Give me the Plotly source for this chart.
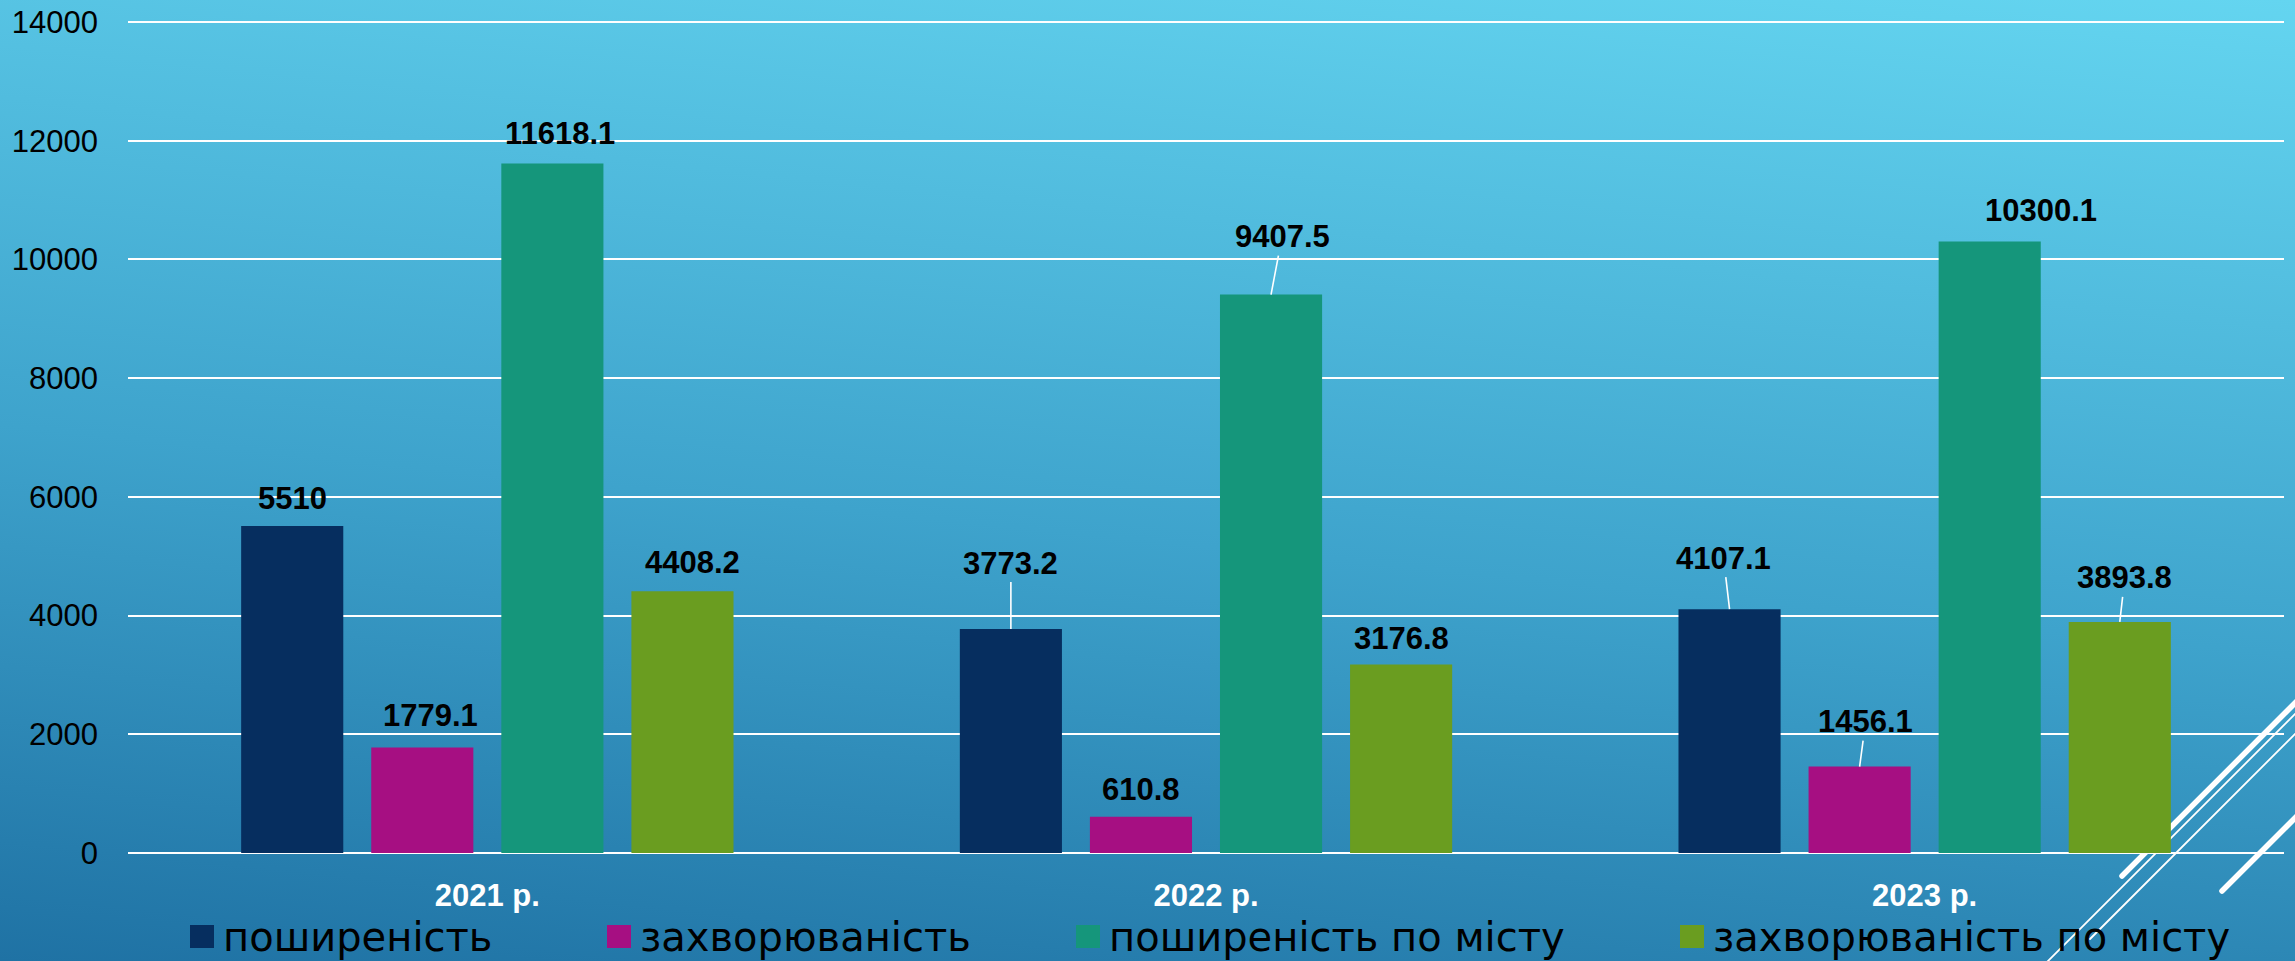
import base64
import plotly.graph_objects as go

# ---- data ----
categories = ["2021 р.", "2022 р.", "2023 р."]
series_names = ["поширеність", "захворюваність", "поширеність по місту", "захворюваність по місту"]
prevalence = [5510, 3773.2, 4107.1]
incidence = [1779.1, 610.8, 1456.1]
city_prevalence = [11618.1, 9407.5, 10300.1]
city_incidence = [4408.2, 3176.8, 3893.8]
y_ticks = [0, 2000, 4000, 6000, 8000, 10000, 12000, 14000]

series_values = [prevalence, incidence, city_prevalence, city_incidence]
series_colors = ["#062e5f", "#a60f82", "#15967b", "#6a9d20"]

# label placement (pixel offsets of the label centre from the bar top, leader line on/off)
label_offsets = [
    [(0, -27, False), (0, -66, True), (-6, -51, True)],
    [(8, -32, False), (0, -27, False), (6, -45, True)],
    [(8, -30, False), (11, -58, True), (51, -31, False)],
    [(10, -29, False), (0, -26, False), (5, -44, True)],
]

# ---- geometry ----
W, H = 2295, 961
ML, MR, MT, MB = 128, 11, 18, 106
PW, PH = W - ML - MR, H - MT - MB
ZERO_PX, TOP_TICK_PX = 853, 22          # pixel rows of the 0 and 14000 grid lines
PX_PER_UNIT = (ZERO_PX - TOP_TICK_PX) / y_ticks[-1]
Y_RANGE = [-(H - MB - ZERO_PX) / PX_PER_UNIT, (ZERO_PX - MT) / PX_PER_UNIT]
BARGAP, GROUPGAP = 0.276, 0.215
SLOT = (1 - BARGAP) / len(series_values)


def px_x(px):
    return (px - ML) / PW


def px_y(py):
    return (H - MB - py) / PH


# ---- background: diagonal gradient with decorative strokes ----
svg = f"""<svg xmlns="http://www.w3.org/2000/svg" width="{W}" height="{H}" viewBox="0 0 {W} {H}" preserveAspectRatio="none">
<defs><linearGradient id="g" gradientUnits="userSpaceOnUse" x1="0" y1="961" x2="118.6" y2="-218.8">
<stop offset="0" stop-color="#1f72a4"/><stop offset="0.45" stop-color="#3ea3cc"/><stop offset="1" stop-color="#64d5f0"/>
</linearGradient></defs>
<rect x="0" y="0" width="{W}" height="{H}" fill="url(#g)"/>
<g stroke="#ffffff" stroke-linecap="round" fill="none">
<line x1="2122" y1="876" x2="2330" y2="668" stroke-width="5.5"/>
<line x1="2222" y1="891" x2="2330" y2="783" stroke-width="5.5"/>
<line x1="2030" y1="979" x2="2330" y2="679" stroke-width="1.8"/>
<line x1="2090" y1="939" x2="2330" y2="699" stroke-width="1.8"/>
</g></svg>"""
bg_uri = "data:image/svg+xml;base64," + base64.b64encode(svg.encode("utf-8")).decode("ascii")

fig = go.Figure()

for name, vals, color in zip(series_names, series_values, series_colors):
    fig.add_trace(go.Bar(
        x=categories, y=vals, name=name,
        marker=dict(color=color, line=dict(width=0)),
        showlegend=False,
    ))

# ---- value labels ----
annotations = []
for i, vals in enumerate(series_values):
    for j, v in enumerate(vals):
        ax, ay, leader = label_offsets[i][j]
        annotations.append(dict(
            x=j + (i - (len(series_values) - 1) / 2) * SLOT, y=v,
            xref="x", yref="y",
            text=f"<b>{v:g}</b>",
            showarrow=True, arrowhead=0, arrowwidth=1.6,
            arrowcolor="#ffffff" if leader else "rgba(0,0,0,0)",
            ax=ax, ay=ay,
            font=dict(family="Liberation Sans", size=31, color="#000000"),
        ))

# ---- legend (squares + text) ----
legend_square_x = [190, 607, 1076, 1680]
shapes = []
for sx, name, color in zip(legend_square_x, series_names, series_colors):
    shapes.append(dict(
        type="rect", xref="paper", yref="paper",
        x0=px_x(sx), x1=px_x(sx + 24), y0=px_y(948), y1=px_y(925),
        fillcolor=color, line=dict(width=0), layer="above",
    ))
    annotations.append(dict(
        x=px_x(sx + 31), y=px_y(937), xref="paper", yref="paper",
        xanchor="left", yanchor="middle", showarrow=False,
        text=name,
        font=dict(family="DejaVu Sans", size=40, color="#000000"),
    ))

fig.update_layout(
    width=W, height=H,
    margin=dict(l=ML, r=MR, t=MT, b=MB, pad=0, autoexpand=False),
    paper_bgcolor="#3a9cc6",
    plot_bgcolor="rgba(0,0,0,0)",
    barmode="group", bargap=BARGAP, bargroupgap=GROUPGAP,
    images=[dict(
        source=bg_uri, xref="paper", yref="paper",
        x=px_x(0), y=px_y(0), sizex=px_x(W) - px_x(0), sizey=px_y(0) - px_y(H),
        xanchor="left", yanchor="top", sizing="stretch", layer="below",
    )],
    shapes=shapes,
    annotations=annotations,
    showlegend=False,
    xaxis=dict(
        showgrid=False, zeroline=False, showline=False, ticks="", automargin=False,
        tickfont=dict(family="Liberation Sans", size=31, color="#ffffff", weight="bold"),
        ticklabelstandoff=19,
    ),
    yaxis=dict(
        range=Y_RANGE, tickvals=y_ticks, ticktext=[str(t) for t in y_ticks],
        showgrid=True, gridcolor="#ffffff", gridwidth=2,
        zeroline=False, showline=False, ticks="", automargin=False,
        tickfont=dict(family="Liberation Sans", size=31, color="#000000"),
        ticklabelstandoff=29,
    ),
)

fig.write_html("out.html")
